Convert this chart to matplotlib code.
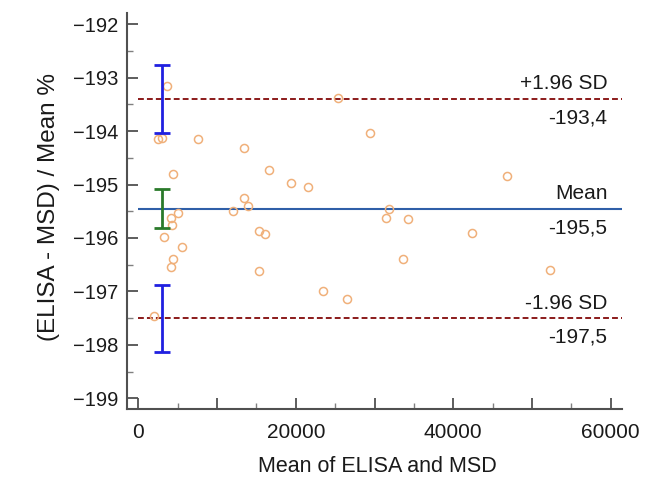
import matplotlib.pyplot as plt

plt.rcParams['font.family'] = ['Liberation Sans', 'DejaVu Sans']

# Bland-Altman data
mean_vals = [3660, 25390, 2520, 3020, 7560, 29420, 13400, 4380, 16580, 19420,
             21540, 46790, 5020, 4170, 4260, 12070, 13440, 13950, 3180, 15350,
             16140, 5570, 4450, 4170, 15310, 23510, 26450, 1970, 31830, 31490,
             34280, 42410, 33650, 52290]
diff_pct = [-193.16, -193.38, -194.15, -194.13, -194.15, -194.04, -194.32, -194.80,
            -194.73, -194.97, -195.04, -194.84, -195.53, -195.63, -195.76, -195.50,
            -195.25, -195.41, -195.98, -195.86, -195.92, -196.17, -196.39, -196.55,
            -196.62, -196.99, -197.15, -197.45, -195.46, -195.62, -195.65, -195.91,
            -196.39, -196.60]

mean_diff = -195.45
upper_loa = -193.4
lower_loa = -197.5
ci_x = 3050
ci_upper = (-194.04, -192.77)
ci_mean = (-195.81, -195.08)
ci_lower = (-198.13, -196.88)

y_ticks = list(range(-199, -191))
x_ticks = list(range(0, 60001, 10000))
x_labels = ['0', '', '20000', '', '40000', '', '60000']

fig = plt.figure(figsize=(6.46, 4.79), dpi=100)
ax = fig.add_axes([0.1966, 0.146, 0.766, 0.827])

xmax = 61440
ax.set_xlim(-1460, xmax)
ax.set_ylim(-199.2, -191.79)

# limits of agreement and mean
ax.hlines([upper_loa, lower_loa], 0, xmax, colors='#8b1a1a', linestyles=(0, (3, 1.6)), linewidth=1.4)
ax.hlines(mean_diff, 0, xmax, colors='#2f5fa8', linewidth=1.5)

ax.plot(mean_vals, diff_pct, 'o', markersize=5.8, markerfacecolor='none',
        markeredgecolor='#f0b07a', markeredgewidth=1.1)

# confidence intervals
for lo, hi, col in [(ci_upper[0], ci_upper[1], '#2020e0'),
                    (ci_mean[0], ci_mean[1], '#2a7a2a'),
                    (ci_lower[0], ci_lower[1], '#2020e0')]:
    ax.errorbar(ci_x, (lo + hi) / 2, yerr=(hi - lo) / 2, color=col,
                linewidth=2, capsize=6.0, capthick=2, fmt='none')

fs = 15
tx = 59600
for yv, top, bottom in [(upper_loa, '+1.96 SD', '-193,4'),
                        (mean_diff, 'Mean', '-195,5'),
                        (lower_loa, '-1.96 SD', '-197,5')]:
    ax.annotate(top, (tx, yv), xytext=(0, 4), textcoords='offset points',
                ha='right', va='bottom', fontsize=fs, color='#1a1a1a')
    ax.annotate(bottom, (tx, yv), xytext=(0, -7), textcoords='offset points',
                ha='right', va='top', fontsize=fs, color='#1a1a1a')

ax.set_xticks(x_ticks)
ax.set_xticklabels(x_labels)
ax.set_xticks(range(5000, 60000, 10000), minor=True)
ax.set_yticks(y_ticks)
ax.set_yticklabels(['\u2212' + str(-v) for v in y_ticks])
ax.set_yticks([v + 0.5 for v in y_ticks[:-1]], minor=True)

for s in ['top', 'right']:
    ax.spines[s].set_visible(False)
for s in ['left', 'bottom']:
    ax.spines[s].set_color('#505050')
    ax.spines[s].set_linewidth(1.5)
ax.tick_params(which='major', direction='in', length=8, width=1.3, color='#505050',
               labelsize=fs, labelcolor='#1a1a1a')
ax.tick_params(axis='y', which='major', pad=6, labelsize=14.5)
ax.tick_params(axis='x', which='major', pad=10)
ax.tick_params(which='minor', direction='in', length=4, width=1, color='#808080')

ax.set_xlabel('Mean of ELISA and MSD', fontsize=15.5, color='#1a1a1a')
ax.xaxis.set_label_coords(0.505, -0.119)
ax.set_ylabel('(ELISA - MSD) / Mean %', fontsize=17.5, color='#1a1a1a')
ax.yaxis.set_label_coords(-0.158, 0.51)
ax.yaxis.label.set_va('center')

fig.savefig('out.png', dpi=100)
